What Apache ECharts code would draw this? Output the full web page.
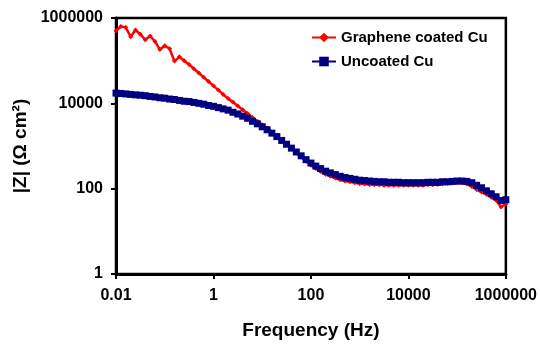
<!DOCTYPE html>
<html>
<head>
<meta charset="utf-8">
<script src="https://cdn.jsdelivr.net/npm/echarts@6/dist/echarts.min.js"></script>
<style>
html,body{margin:0;padding:0;background:#fff;}
#chart{width:540px;height:345px;}
</style>
</head>
<body>
<div id="chart"></div>
<script>
// Frequency (Hz), ascending
var freq = [0.01,0.0126,0.0158,0.02,0.0251,0.0316,0.0398,0.0501,0.0631,0.0794,
0.1,0.126,0.158,0.2,0.251,0.316,0.398,0.501,0.631,0.794,
1,1.26,1.58,2,2.51,3.16,3.98,5.01,6.31,7.94,
10,12.6,15.8,20,25.1,31.6,39.8,50.1,63.1,79.4,
100,126,158,200,251,316,398,501,631,794,
1000,1260,1580,2000,2510,3160,3980,5010,6310,7940,
10000,12600,15800,20000,25100,31600,39800,50100,63100,79400,
100000,126000,158000,200000,251000,316000,398000,501000,631000,794000,
1000000];

// |Z| (Ohm cm2) - Graphene coated Cu
var grapheneZ = [501000,631000,603000,363000,525000,417000,309000,380000,282000,182000,
224000,191000,97700,123000,100000,81300,64600,51300,40700,32400,
25700,20400,16200,12900,10700,8710,7080,5750,4680,3800,
3160,2630,2140,1740,1380,1100,871,692,550,437,
355,295,251,219,195,178,162,151,145,138,
132,129,126,123,123,120,120,120,120,120,
120,120,120,120,123,123,126,129,132,135,
138,138,129,112,95.5,83.2,74.1,63.1,53.7,37.2,
43.7];

// |Z| (Ohm cm2) - Uncoated Cu
var uncoatedZ = [17400,17000,16600,16200,15800,15500,15100,14500,14100,13500,
13200,12600,12300,11700,11200,11000,10500,10000,9550,8910,
8510,7940,7410,6920,6170,5620,5010,4470,3800,3310,
2820,2400,2000,1660,1350,1100,891,724,589,479,
398,339,295,257,234,214,195,182,174,166,
158,155,151,148,145,145,141,141,141,138,
138,138,138,138,141,141,141,145,145,148,
151,151,148,138,120,105,89.1,75.9,64.6,52.5,
55.0];

var seriesNames = ['Graphene coated Cu', 'Uncoated Cu'];
var xTitle = 'Frequency (Hz)';
var yTitle = '|Z| (\u03A9 cm\u00B2)';

function pairs(xs, ys){ return xs.map(function(x,i){ return [x, ys[i]]; }); }
function fmt(v){ return String(Number(v.toPrecision(6))); }

var FONT = 'Liberation Sans, Arial, sans-serif';
var chart = echarts.init(document.getElementById('chart'), null, {renderer:'canvas'});
chart.setOption({
  animation: false,
  backgroundColor: '#ffffff',
  grid: {left:116, right:34, top:18, bottom:66, show:true, borderColor:'#000', borderWidth:2.5, backgroundColor:'transparent'},
  legend: {
    orient:'vertical', left:306, top:25, itemWidth:24, itemHeight:12, itemGap:9,
    textStyle:{fontFamily:FONT, fontSize:15, fontWeight:'bold', color:'#000'},
    data: seriesNames
  },
  xAxis: {
    type:'log', logBase:10, min:0.01, max:1000000, interval:2,
    name: xTitle, nameLocation:'middle', nameGap:47,
    nameTextStyle:{fontFamily:FONT, fontSize:19, fontWeight:'bold', color:'#000'},
    axisLine:{show:true, lineStyle:{color:'#000', width:3}},
    axisTick:{show:true, inside:false, length:5, lineStyle:{color:'#000', width:2}},
    minorTick:{show:false},
    splitLine:{show:false},
    axisLabel:{fontFamily:FONT, fontSize:16, fontWeight:'bold', color:'#000', margin:14, formatter:fmt}
  },
  yAxis: {
    type:'log', logBase:10, min:1, max:1000000, interval:2,
    name: yTitle, nameLocation:'middle', nameGap:81, nameRotate:90,
    nameTextStyle:{fontFamily:FONT, fontSize:19, fontWeight:'bold', color:'#000'},
    axisLine:{show:true, lineStyle:{color:'#000', width:3}},
    axisTick:{show:true, inside:false, length:5, lineStyle:{color:'#000', width:2}},
    minorTick:{show:false},
    splitLine:{show:false},
    axisLabel:{fontFamily:FONT, fontSize:16, fontWeight:'bold', color:'#000', margin:13, formatter:fmt}
  },
  series: [
    {name:seriesNames[0], type:'line', data:pairs(freq, grapheneZ), color:'#ff0000',
     lineStyle:{width:2.5, color:'#ff0000'}, symbol:'diamond', symbolSize:5, showAllSymbol:true,
     itemStyle:{color:'#ff0000'}, z:2},
    {name:seriesNames[1], type:'line', data:pairs(freq, uncoatedZ), color:'#000080',
     lineStyle:{width:2, color:'#000080'}, symbol:'rect', symbolSize:7, showAllSymbol:true,
     itemStyle:{color:'#000080'}, z:3}
  ]
});
</script>
</body>
</html>
